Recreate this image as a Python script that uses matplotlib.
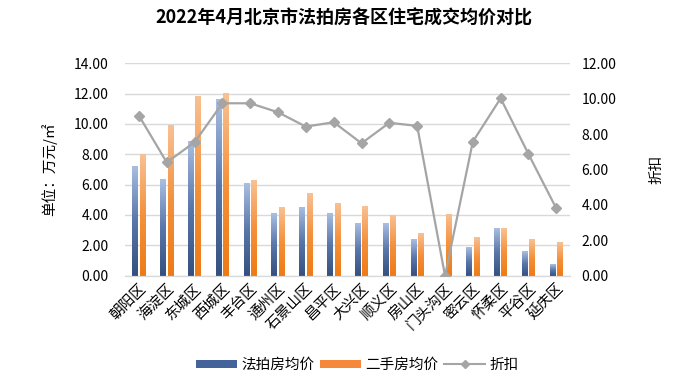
import numpy as np
import matplotlib
matplotlib.use('Agg')
import matplotlib.pyplot as plt
from matplotlib.lines import Line2D
from matplotlib.patches import Patch
from matplotlib.colors import LinearSegmentedColormap

plt.rcParams['font.family'] = ['Noto Sans CJK SC', 'DejaVu Sans']

# 数据
districts = ['朝阳区', '海淀区', '东城区', '西城区', '丰台区', '通州区', '石景山区', '昌平区',
             '大兴区', '顺义区', '房山区', '门头沟区', '密云区', '怀柔区', '平谷区', '延庆区']
auction_price = [7.25, 6.37, 8.90, 11.63, 6.09, 4.11, 4.55, 4.11,
                 3.45, 3.45, 2.40, 0.00, 1.91, 3.16, 1.63, 0.78]
second_hand_price = [8.00, 9.93, 11.87, 12.06, 6.29, 4.51, 5.47, 4.79,
                     4.59, 3.98, 2.81, 4.09, 2.53, 3.16, 2.39, 2.20]
discount = [9.04, 6.40, 7.54, 9.74, 9.74, 9.23, 8.42, 8.67,
            7.48, 8.64, 8.46, 0.00, 7.57, 10.02, 6.87, 3.80]

left_ticks = np.arange(0, 14.01, 2)
right_ticks = np.arange(0, 12.01, 2)

blue_cmap = LinearSegmentedColormap.from_list('b', ['#34507f', '#5a77aa', '#aabfe2'])
orange_cmap = LinearSegmentedColormap.from_list('o', ['#ee7a14', '#f4913c', '#f9c194'])


def gradient_bars(ax, x, heights, width, cmap):
    bars = ax.bar(x, heights, width=width, color='none', edgecolor='none', zorder=2)
    grad = np.linspace(0, 1, 256).reshape(-1, 1)
    for b in bars:
        h = b.get_height()
        if h <= 0:
            continue
        x0 = b.get_x()
        im = ax.imshow(grad, extent=(x0, x0 + b.get_width(), 0, h), origin='lower',
                       cmap=cmap, aspect='auto', zorder=2)
        im.set_clip_path(b)
    return bars


fig = plt.figure(figsize=(6.87, 3.80), dpi=100)
ax = fig.add_axes([0.182, 0.2745, 0.648, 0.559])
ax2 = ax.twinx()

x = np.arange(len(districts))
w = 0.21
gradient_bars(ax, x - 0.135, auction_price, w, blue_cmap)
gradient_bars(ax, x + 0.135, second_hand_price, w, orange_cmap)

ax2.plot(x, discount, color='#a5a5a5', lw=1.6, marker='D', markersize=5,
         markerfacecolor='#a5a5a5', markeredgecolor='#a5a5a5', zorder=3)

ax.set_xlim(-0.5, len(districts) - 0.5)
ax.set_ylim(0, 14)
ax2.set_ylim(0, 12)
ax.set_yticks(left_ticks)
ax.set_yticklabels([f'{v:.2f}' for v in left_ticks], fontsize=10)
ax2.set_yticks(right_ticks)
ax2.set_yticklabels([f'{v:.2f}' for v in right_ticks], fontsize=10)
ax.grid(axis='y', color='#d9d9d9', lw=1, zorder=0)
ax.set_axisbelow(True)

ax.set_xticks(x)
ax.set_xticklabels(districts, rotation=45, ha='right', rotation_mode='anchor', fontsize=10.5)

for a in (ax, ax2):
    for s in ('top', 'left', 'right'):
        a.spines[s].set_visible(False)
    a.spines['bottom'].set_color('#d9d9d9')
    a.tick_params(length=0, colors='#000000')
ax.tick_params(axis='y', pad=12)
ax2.tick_params(axis='y', pad=8)
ax.tick_params(axis='x', pad=4)

ax.set_ylabel('单位：万元/㎡', fontsize=10.5, labelpad=12)
ax2.set_ylabel('折扣', fontsize=10.5, labelpad=24)

fig.text(0.5, 0.952, '2022年4月北京市法拍房各区住宅成交均价对比', ha='center', va='center',
         fontsize=13, fontweight='bold')

handles = [Patch(facecolor='#44639b', label='法拍房均价'),
           Patch(facecolor='#f5883a', label='二手房均价'),
           Line2D([0], [0], color='#a5a5a5', lw=1.5, marker='D', markersize=4, label='折扣')]
fig.legend(handles=handles, loc='center', bbox_to_anchor=(0.52, 0.04), ncol=3, frameon=False,
           fontsize=10.5, handlelength=2.8, handleheight=0.45, columnspacing=0.4, handletextpad=0.3)

fig.savefig('out.png', dpi=100)
